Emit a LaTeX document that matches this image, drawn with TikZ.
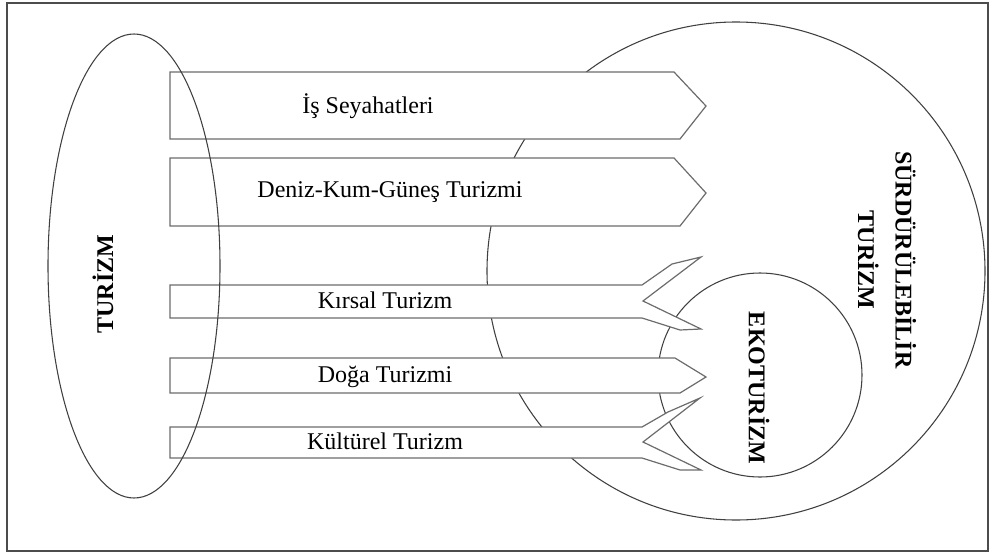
\documentclass[tikz,border=0pt]{standalone}
\usepackage{fontspec}
\setmainfont{Liberation Serif}

\begin{document}
\begin{tikzpicture}[x=0.75pt,y=-0.75pt,
  okbox/.style={draw=gray!85!black, fill=white, line width=0.9},
  lbl/.style={font=\fontsize{18}{22}\selectfont},
  ttl/.style={font=\fontsize{18}{28}\selectfont\bfseries, align=center}]

\useasboundingbox (0,0) rectangle (996,553);
\draw[gray!60!black, line width=1.2] (7,3) rectangle (988,551);

% buyuk daireler
\draw[black!75, line width=0.8] (736,271) circle[radius=249];
\draw[black!75, line width=0.8] (760,375) circle[radius=102];

% oklar
\draw[okbox] (170,72) -- (674,72) -- (706,106) -- (680,139) -- (170,139) -- cycle;
\draw[okbox] (170,158) -- (674,158) -- (706,193) -- (680,226) -- (170,226) -- cycle;
\draw[okbox] (170,285) -- (642,285) -- (672,264) -- (701,257) -- (643,301)
  -- (701,329) -- (680,330) -- (642,318) -- (170,318) -- cycle;
\draw[okbox] (170,358) -- (675,358) -- (706,377) -- (680,393) -- (170,393) -- cycle;
\draw[okbox] (170,427) -- (642,427) -- (668,412) -- (700,398) -- (643,442)
  -- (701,470) -- (680,470) -- (642,458) -- (170,458) -- cycle;

% turizm elipsi
\draw[black!75, line width=0.8] (134,266) ellipse[x radius=86, y radius=232];

\node[lbl] (is) at (368,106) {İş Seyahatleri};
\node[lbl] (deniz) at (390,192) {Deniz-Kum-Güneş Turizmi};
\node[lbl] (kirsal) at (385,300) {Kırsal Turizm};
\node[lbl] (doga) at (385,377) {Doğa Turizmi};
\node[lbl] (kultur) at (385,441) {Kültürel Turizm};

\node[ttl, rotate=90] (turizm) at (103,284) {TURİZM};
\node[ttl, rotate=-90] (surdur) at (887,260) {SÜRDÜRÜLEBİLİR\\TURİZM};
\node[ttl, rotate=-90] (eko) at (759,388) {EKOTURİZM};

\end{tikzpicture}
\end{document}
